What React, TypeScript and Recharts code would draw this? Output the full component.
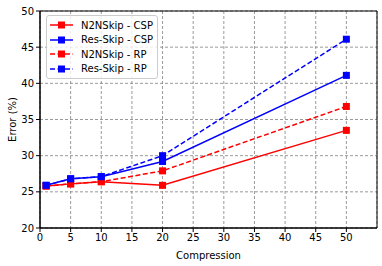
import {
  CartesianGrid,
  Line,
  LineChart,
  ReferenceArea,
  XAxis,
  YAxis,
} from 'recharts'

const compression = [1, 5, 10, 20, 50]
const n2nSkipCsp = [25.8, 26.1, 26.4, 25.9, 33.5]
const resSkipCsp = [25.9, 26.8, 27.1, 29.2, 41.1]
const n2nSkipRp = [25.8, 26.1, 26.4, 27.9, 36.8]
const resSkipRp = [25.9, 26.8, 27.1, 30.0, 46.1]

const xTicks = [0, 5, 10, 15, 20, 25, 30, 35, 40, 45, 50]
const yTicks = [20, 25, 30, 35, 40, 45, 50]

const RED = '#ff0000'
const BLUE = '#0000ff'
const FONT = '"DejaVu Sans", sans-serif'

const seriesList = [
  { key: 'n2nCsp', name: 'N2NSkip - CSP', color: RED, dashed: false },
  { key: 'resCsp', name: 'Res-Skip - CSP', color: BLUE, dashed: false },
  { key: 'n2nRp', name: 'N2NSkip - RP', color: RED, dashed: true },
  { key: 'resRp', name: 'Res-Skip - RP', color: BLUE, dashed: true },
]

const data = compression.map((c, i) => ({
  c,
  n2nCsp: n2nSkipCsp[i],
  resCsp: resSkipCsp[i],
  n2nRp: n2nSkipRp[i],
  resRp: resSkipRp[i],
}))

function squareDot(color: string) {
  return (props: any) => {
    const { cx, cy, index } = props
    if (cx == null || cy == null) return <g key={index} />
    return <rect key={index} x={cx - 3.5} y={cy - 3.5} width={7} height={7} fill={color} />
  }
}

function LegendBox() {
  return (
    <div
      style={{
        position: 'absolute',
        left: 46,
        top: 15,
        background: 'rgba(255,255,255,0.8)',
        border: '1px solid #cccccc',
        borderRadius: 3,
        padding: '2px 4px 2px 3px',
        fontFamily: FONT,
        fontSize: 10,
        color: '#000',
      }}
    >
      {seriesList.map((s) => (
        <div key={s.key} style={{ display: 'flex', alignItems: 'center', height: 14.5 }}>
          <svg width={24} height={10} style={{ marginRight: 7 }}>
            <line
              x1={0}
              y1={5}
              x2={23}
              y2={5}
              stroke={s.color}
              strokeWidth={1.5}
              strokeDasharray={s.dashed ? '5 2.5' : undefined}
            />
            <rect x={8} y={1.5} width={7} height={7} fill={s.color} />
          </svg>
          <span>{s.name}</span>
        </div>
      ))}
    </div>
  )
}

export default function App() {
  const tick = { fill: '#000', fontSize: 10, fontFamily: FONT }
  return (
    <div style={{ position: 'fixed', left: 0, top: 0, width: 382, height: 266, background: '#fff' }}>
      <LineChart
        width={382}
        height={266}
        data={data}
        margin={{ top: 11, right: 5, left: 0, bottom: 0 }}
      >
        <CartesianGrid stroke="#808080" strokeDasharray="3 2" strokeWidth={0.8} />
        <XAxis
          dataKey="c"
          type="number"
          domain={[0, 55]}
          ticks={xTicks}
          height={38}
          tick={tick}
          tickSize={4}
          tickLine={{ stroke: '#000' }}
          axisLine={{ stroke: '#000' }}
          label={{
            value: 'Compression',
            position: 'insideBottom',
            offset: 7,
            style: { fill: '#000', fontSize: 10, fontFamily: FONT },
          }}
        />
        <YAxis
          type="number"
          domain={[20, 50]}
          ticks={yTicks}
          width={40}
          tick={tick}
          tickSize={4}
          tickLine={{ stroke: '#000' }}
          axisLine={{ stroke: '#000' }}
          label={{
            value: 'Error (%)',
            angle: -90,
            position: 'insideLeft',
            offset: 12,
            style: { fill: '#000', fontSize: 10, fontFamily: FONT, textAnchor: 'middle' },
          }}
        />
        <ReferenceArea x1={0} x2={55} y1={20} y2={50} fill="none" stroke="#000" strokeWidth={1} />
        {seriesList.map((s) => (
          <Line
            key={s.key}
            dataKey={s.key}
            name={s.name}
            stroke={s.color}
            strokeWidth={1.5}
            strokeDasharray={s.dashed ? '5 2.5' : undefined}
            dot={squareDot(s.color)}
            activeDot={false}
            isAnimationActive={false}
          />
        ))}
      </LineChart>
      <LegendBox />
    </div>
  )
}
